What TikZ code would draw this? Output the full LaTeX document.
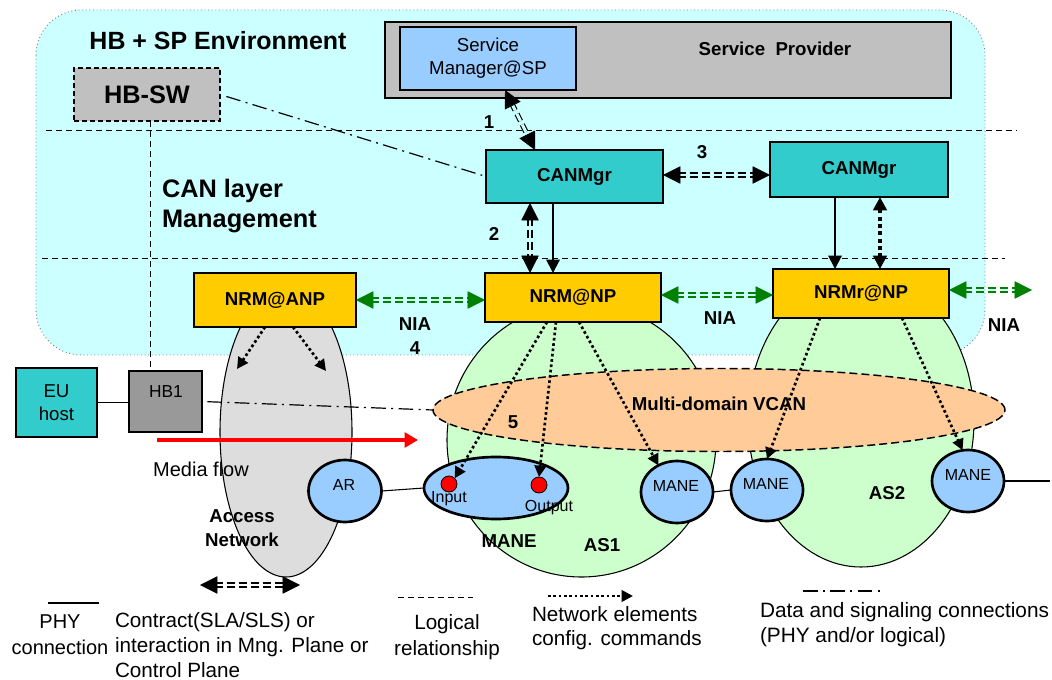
\documentclass[tikz,border=0pt]{standalone}
\usepackage{fontspec}
\setmainfont{Liberation Sans}
\usetikzlibrary{arrows.meta,shapes.geometric}
\definecolor{cbg}{HTML}{CCFFFF}
\definecolor{spgray}{HTML}{C0C0C0}
\definecolor{smblue}{HTML}{99CCFF}
\definecolor{tealbox}{HTML}{33CCCC}
\definecolor{nrmyel}{HTML}{FFCC00}
\definecolor{accgray}{HTML}{DDDDDD}
\definecolor{asgreen}{HTML}{CCFFCC}
\definecolor{vcanpeach}{HTML}{FFCC99}
\definecolor{hbgray}{HTML}{999999}
\definecolor{niagreen}{HTML}{008000}
\newcommand{\fsz}[2]{\fontsize{#1}{#2}\selectfont}
\begin{document}
\begin{tikzpicture}[x=0.75pt,y=-0.75pt,
  every node/.style={inner sep=0pt, outer sep=0pt},
  region/.style={fill=cbg, draw=gray, dotted, line width=0.7pt, rounded corners=34pt},
  logical/.style={draw=black, line width=0.7pt, dash pattern=on 4.5pt off 3pt},
  dashdot/.style={draw=black, line width=0.9pt, dash pattern=on 11pt off 4pt on 1.5pt off 4pt},
  phy/.style={draw=black, line width=0.8pt},
  box/.style={rectangle, draw=black, line width=1.1pt},
  bigell/.style={ellipse, draw=black, line width=0.8pt},
  maneell/.style={ellipse, draw=black, line width=2pt, fill=smblue, minimum width=54pt, minimum height=46.5pt},
  reddot/.style={circle, draw=black, line width=0.6pt, fill=red, minimum size=12pt},
  btxt/.style={font=\bfseries\fsz{14}{17}},
  ntxt/.style={font=\fsz{14}{17}},
  stxt/.style={font=\fsz{12}{14}},
  lgtxt/.style={font=\fsz{15.5}{18.5}},
  dblline/.style={draw=#1, double=cbg, line width=0.9pt, double distance=2.2pt, dash pattern=on 6pt off 3pt, shorten <=11pt, shorten >=11pt},
  bigtips/.style={tips, color=#1, {Triangle[length=13pt,width=13pt]}-{Triangle[length=13pt,width=13pt]}},
  solidarrow/.style={draw=black, line width=1.5pt, -{Triangle[length=10pt,width=10pt]}},
  cfg/.style={draw=black, line width=2pt, dash pattern=on 2pt off 2pt, -{Triangle[length=8.5pt,width=8.5pt]}},
  cfgthick/.style={draw=black, line width=3pt, dash pattern=on 3pt off 2.5pt, {Triangle[length=10pt,width=10pt]}-{Triangle[length=10pt,width=10pt]}},
  media/.style={draw=red, line width=3.4pt, -{Triangle[length=10pt,width=11pt]}}
]
\useasboundingbox (0,0) rectangle (1052,680);
\fill[white] (0,0) rectangle (1052,680);

% environment region
\draw[region] (36,10) rectangle (985,355);

% logical separation lines
\coordinate (l1a) at (46,130); \coordinate (l1b) at (1017,130);
\coordinate (l2a) at (42,258); \coordinate (l2b) at (1005,258);
\draw[logical] (l1a) -- (l1b);
\draw[logical] (l2a) -- (l2b);

% domain ellipses
\node[bigell, fill=accgray, minimum width=99pt, minimum height=217.5pt] (acc) at (286,432) {};
\node[bigell, fill=asgreen, minimum width=201.75pt, minimum height=205.5pt] (as1) at (581.5,440) {};
\node[bigell, fill=asgreen, minimum width=169.5pt, minimum height=220.5pt] (as2) at (861,420) {};
\node[ellipse, draw=black, line width=1.1pt, dash pattern=on 6pt off 3pt, fill=vcanpeach, minimum width=429pt, minimum height=62.25pt] (vcan) at (719,410) {};

% boxes
\node[box, fill=spgray, minimum width=424.5pt, minimum height=57pt] (sp) at (668,60) {};
\node[btxt] (sptxt) at (775,49) {Service\ \ Provider};
\node[box, fill=smblue, minimum width=132pt, minimum height=47.25pt, align=center, ntxt] (smsp) at (488,58.5) {Service\\Manager@SP};
\node[box, fill=spgray, dash pattern=on 4pt off 2pt, minimum width=109.5pt, minimum height=39.75pt, font=\bfseries\fsz{19}{22}] (hbsw) at (147,94.5) {HB-SW};
\node[font=\bfseries\fsz{18.7}{22}] (title) at (218,41) {HB + SP Environment};
\node[anchor=west, align=left, font=\bfseries\fsz{19}{23}] (canlayer) at (162,206) {CAN layer\\Management};

\node[box, fill=tealbox, minimum width=132.75pt, minimum height=39.75pt, btxt] (canl) at (574.5,176.5) {CANMgr};
\node[box, fill=tealbox, minimum width=133.5pt, minimum height=41.25pt, btxt] (canr) at (859,169.5) {CANMgr};
\node[box, fill=nrmyel, minimum width=121.5pt, minimum height=40.5pt, btxt] (nrma) at (275,300) {NRM@ANP};
\node[box, fill=nrmyel, minimum width=132pt, minimum height=36.75pt, btxt] (nrmn) at (573,297.5) {NRM@NP};
\node[box, fill=nrmyel, minimum width=132pt, minimum height=36.75pt, btxt] (nrmr) at (861,293.5) {NRMr@NP};

\node[box, fill=tealbox, minimum width=60.75pt, minimum height=51.75pt, align=center, font=\fsz{14}{17.5}] (eu) at (56.5,402.5) {EU\\host};
\node[box, fill=hbgray, minimum width=54.75pt, minimum height=45.75pt] (hb1) at (165.5,401.5) {};
\node[font=\fsz{13}{15}] (hb1t) at (166,392) {HB1};

% network elements
\node[maneell, minimum width=54.75pt] (ar) at (345,491) {};
\node[stxt] (artxt) at (344,485) {AR};
\node[maneell, minimum width=108pt] (m1) at (496,488) {};
\node[reddot] (in) at (449,484) {};
\node[reddot] (out) at (539,485) {};
\node[stxt] (intxt) at (449,499) {Input};
\node[stxt] (outtxt) at (549,508) {Output};
\node[maneell] (m2) at (677,492) {};
\node[stxt] (m2t) at (676,486) {MANE};
\node[maneell] (m3) at (767,490) {};
\node[stxt] (m3t) at (766,484) {MANE};
\node[maneell] (m4) at (968,481) {};
\node[stxt] (m4t) at (968,475) {MANE};

% labels
\node[btxt] (lbmane) at (509,541) {MANE};
\node[btxt] (lbas1) at (602,545) {AS1};
\node[btxt] (lbas2) at (887,493) {AS2};
\node[btxt, align=center, font=\bfseries\fsz{14}{18}] (lbacc) at (242,528) {Access\\Network};
\node[btxt] (lb5) at (513,422) {5};
\node[btxt] (lbvcan) at (719,404) {Multi-domain VCAN};
\node[btxt] (lb1) at (489,122) {1};
\node[btxt] (lb2) at (494,234) {2};
\node[btxt] (lb3) at (702,152) {3};
\node[btxt] (nia1) at (415,324) {NIA};
\node[btxt] (lb4) at (415,348) {4};
\node[btxt] (nia2) at (720,318) {NIA};
\node[btxt] (nia3) at (1004,325) {NIA};
\node[font=\fsz{15}{18}] (mediatxt) at (201,469) {Media flow};

% physical connections
\draw[phy] (eu.east) -- (hb1.west |- eu.east);
\draw[phy] (ar.east) -- (m1.west);
\draw[phy] (m2.east) -- (m3.west);
\coordinate (phyend) at (1050,481);
\draw[phy] (m4.east) -- (phyend);

% logical relation HB-SW -- HB1
\draw[logical] (150,0 |- hbsw.south) -- (150,0 |- hb1.north);

% data and signalling
\draw[dashdot, shorten <=5pt, shorten >=3pt] (hbsw.east) -- (canl.west);
\draw[dashdot, shorten <=4pt] (hb1.east) -- (vcan.west);

% media flow
\coordinate (mfa) at (157,440); \coordinate (mfb) at (418,440);
\draw[media] (mfa) -- (mfb);

% contracts / interactions
\draw[dblline=black] (505,0 |- smsp.south) -- (535,0 |- canl.north);
\path[bigtips=black] (505,0 |- smsp.south) -- (535,0 |- canl.north);
\draw[dblline=black] (530,0 |- canl.south) -- (530,0 |- nrmn.north);
\path[bigtips=black] (530,0 |- canl.south) -- (530,0 |- nrmn.north);
\draw[solidarrow] (553,0 |- canl.south) -- (553,0 |- nrmn.north);
\draw[dblline=black] (canl.east |- 0,175) -- (canr.west |- 0,175);
\path[bigtips=black] (canl.east |- 0,175) -- (canr.west |- 0,175);
\draw[solidarrow] (835,0 |- canr.south) -- (835,0 |- nrmr.north);
\draw[cfgthick] (880,0 |- canr.south) -- (880,0 |- nrmr.north);

% NIA
\draw[dblline=niagreen] (nrma.east |- 0,300) -- (nrmn.west |- 0,300);
\path[bigtips=niagreen] (nrma.east |- 0,300) -- (nrmn.west |- 0,300);
\draw[dblline=niagreen] (nrmn.east |- 0,295) -- (nrmr.west |- 0,295);
\path[bigtips=niagreen] (nrmn.east |- 0,295) -- (nrmr.west |- 0,295);
\coordinate (niaend) at (1032,290);
\draw[dblline=niagreen] (nrmr.east |- 0,290) -- (niaend);
\path[bigtips=niagreen] (nrmr.east |- 0,290) -- (niaend);

% configuration commands
\coordinate (c1) at (237,369); \coordinate (c2) at (326,371);
\draw[cfg] (265,0 |- nrma.south) -- (c1);
\draw[cfg] (293,0 |- nrma.south) -- (c2);
\draw[cfg] (547,0 |- nrmn.south) -- (in.north east);
\draw[cfg] (556,0 |- nrmn.south) -- (out.north);
\draw[cfg] (579,0 |- nrmn.south) -- (m2.125);
\draw[cfg] (820,0 |- nrmr.south) -- (m3.north);
\draw[cfg] (902,0 |- nrmr.south) -- (m4.100);

% legend
\coordinate (lgpa) at (48,603); \coordinate (lgpb) at (99,603);
\draw[phy] (lgpa) -- (lgpb);
\node[align=center, font=\fsz{15}{19.5}] (lgpt) at (60,635) {PHY\\connection};
\coordinate (lgca) at (200,585); \coordinate (lgcb) at (300,585);
\draw[dblline=black, double=white] (lgca) -- (lgcb);
\path[bigtips=black] (lgca) -- (lgcb);
\node[anchor=west, align=left, lgtxt] (lgct) at (115,645) {Contract(SLA/SLS) or\\interaction in Mng. Plane or\\Control Plane};
\coordinate (lgla) at (398,597); \coordinate (lglb) at (473,597);
\draw[logical] (lgla) -- (lglb);
\node[align=center, font=\fsz{15.5}{19}] (lglt) at (447,637) {Logical\\relationship};
\coordinate (lgfa) at (548,596); \coordinate (lgfb) at (633,596);
\draw[cfg] (lgfa) -- (lgfb);
\node[anchor=west, align=left, font=\fsz{15.5}{18}] (lgft) at (532,628) {Network elements\\config. commands};
\coordinate (lgda) at (803,591); \coordinate (lgdb) at (882,591);
\draw[dashdot] (lgda) -- (lgdb);
\node[anchor=west, align=left, font=\fsz{15.6}{18.75}] (lgdt) at (760,625) {Data and signaling connections\\(PHY and/or logical)};
\end{tikzpicture}
\end{document}
